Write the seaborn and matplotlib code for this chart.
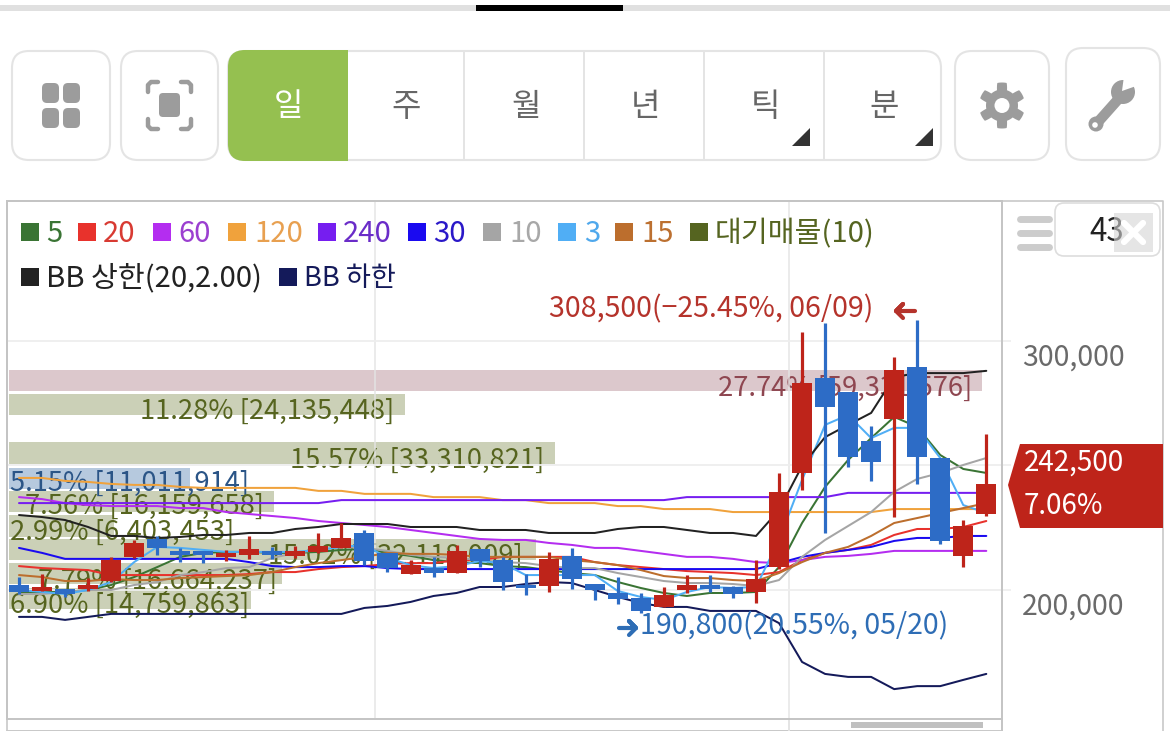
import numpy as np
import pandas as pd
import matplotlib
matplotlib.use("Agg")
import matplotlib.pyplot as plt
from matplotlib.patches import FancyBboxPatch, Rectangle, Polygon, Circle
from matplotlib.transforms import ScaledTranslation
import seaborn as sns

# Daily candles
highs = [205200,206400,200400,204800,213300,220100,221700,216900,215700,216100,221700,217300,217700,222900,226900,224100,214900,212000,213300,218100,216500,213300,206400,215300,216900,202400,205200,198800,201200,206000,206000,201600,212000,247000,303600,307200,279500,265900,293600,308500,253000,228100,262600]
lows = [198400,199600,197200,199600,203200,212900,214100,211200,210800,211600,212400,212400,212900,214900,216900,210000,207200,206400,205200,206800,209200,200000,198000,199200,200400,196000,194400,190800,193200,198800,199200,196800,194800,208400,240200,222900,249400,243800,229300,242600,218500,209200,229700]
opens = [202000,199600,200400,200400,203600,213300,220500,215700,215700,213300,214100,215700,213700,215300,216900,222900,214900,206400,208800,206800,216500,212000,202000,201600,213700,202400,198800,196800,193200,200000,202000,201200,199200,209200,247000,285100,279500,259800,268700,289600,253000,213700,230500]
closes = [199200,201200,198400,202000,212000,218900,216900,214100,214100,214900,216500,214100,215700,217700,220900,211600,208800,210000,206800,215700,211600,203200,200800,212400,204400,200000,196400,191600,198000,202000,200400,198400,204400,239400,283100,273500,253400,251400,288400,253400,219700,225700,242500]

# Moving averages and Bollinger bands
ma3 = [200000,199200,198400,200000,203200,211200,217300,216900,216100,215300,215300,215300,215300,216100,217300,218100,212900,210000,208800,209600,211600,210800,206000,206000,206000,206000,199600,197200,196000,199200,201200,200800,201200,220100,244200,266300,270300,261000,265100,265100,253000,234100,230900]
ma5 = [199200,199200,199200,200000,202000,205200,209200,213300,214900,215300,215300,214900,214900,215300,216100,216500,214900,213700,212000,211200,210800,209600,209200,208000,206800,206000,203200,200800,198800,197600,198800,198800,199200,209200,226900,241400,252200,261000,269500,265500,254200,248600,247000]
ma10 = [198400,198400,199200,200000,200000,202000,203200,206000,207200,208800,209200,212900,214900,216100,217300,216900,215700,214100,213300,212900,212000,211200,210800,209600,208800,208800,206800,205200,203600,202800,202800,202400,201600,204000,213300,220100,225700,231300,239400,244600,247000,250200,253000]
ma15 = [206000,205200,203600,203600,204400,204000,204000,204800,205200,205600,206000,207200,209200,210800,212000,213300,214900,214500,214500,214100,213300,213300,213300,213300,212000,211200,210000,208000,205600,204800,204800,204000,203600,206800,211200,214900,217300,221700,226900,228900,230900,232900,234900]
ma20 = [209600,208800,208400,208000,206000,206000,206000,206000,206000,206000,206400,207200,207200,208400,209200,209600,210400,210800,210800,212000,212000,213300,213300,213300,213300,211200,210000,209200,208400,207600,207200,206800,206000,207200,212000,214900,216100,218100,222100,224500,224500,225300,227700]
ma30 = [216900,214900,212500,212500,212500,212500,212500,212500,212500,212500,211200,209600,209200,209200,209600,209600,208800,208400,208400,208400,208400,208400,208400,208400,208400,208400,208400,208400,208400,208400,208400,208400,208400,210800,213300,214900,216100,217300,219700,220900,220900,221700,221700]
ma60 = [237300,236500,234900,234100,233700,233700,233700,232900,232900,231300,230500,229700,228900,227700,226900,226100,225300,224100,222900,221700,220500,220100,220100,218900,218100,216900,216900,215700,214500,213300,213300,212500,211200,210800,212000,213300,213700,214500,215700,215700,215700,215700,215700]
ma120 = [245000,245000,243800,243400,242600,242200,242200,241400,241000,241000,241000,241000,241000,239800,239800,238600,238600,238600,237300,237300,237300,236100,236100,234900,234900,234900,233700,233700,232500,232500,232500,231300,231300,231300,231300,231300,231300,231300,232500,232500,232500,232500,232500]
ma240 = [234900]*14 + [236100]*15 + [237300]*7 + [239000]*7
bb_upper = [230100,229300,228100,225300,221700,221700,220900,221300,222100,222100,222900,222900,224500,225300,226500,226500,226500,225300,225300,225300,224100,224100,224100,222900,222900,222900,224500,225300,225300,224100,222900,222900,221700,232100,249800,261400,266300,271100,285500,287100,287100,287100,288000]
bb_lower = [189200,189200,188000,189200,190400,190400,190400,190400,190400,190400,190400,190400,190400,190400,190400,192800,193600,195200,197600,198800,201200,201200,202400,203200,202800,200000,197200,194800,193200,193200,191600,191600,191600,186700,171100,166300,165100,165100,160200,161400,161400,163900,166300]

# Resistance bands: price level, share of volume, label
band_levels = [284100,274500,255000,244800,235500,225700,216300,206600,196600]
band_shares = [27.74,11.28,15.57,5.15,7.56,2.99,15.02,7.79,6.90]
band_labels = ["27.74% [59,331,576]","11.28% [24,135,448]","15.57% [33,310,821]","5.15% [11,011,914]","7.56% [16,159,658]","2.99% [6,403,453]","15.02% [32,118,009]","7.79% [16,664,237]","6.90% [14,759,863]"]

price_ticks = [200000,250000,300000]
price_tick_labels = ["200,000","","300,000"]
month_breaks = [15.45,33.45]

FONT = ["Noto Sans CJK KR","DejaVu Sans"]
sns.set_theme(style="white")
plt.rcParams["font.family"] = FONT
plt.rcParams["axes.unicode_minus"] = False

W, H = 1170, 731
fig = plt.figure(figsize=(W/100, H/100), dpi=100, facecolor="white")

def px_rect(x0, y0, x1, y1):
    return [x0/W, 1-y1/H, (x1-x0)/W, (y1-y0)/H]

def overlay(z):
    a = fig.add_axes([0,0,1,1], zorder=z)
    a.set_xlim(0,W); a.set_ylim(H,0); a.axis("off"); a.patch.set_visible(False)
    return a

back = overlay(0)
labels_layer = overlay(1.5)
top = overlay(5)

EDGE = "#E4E4E4"
ICON = "#9C9C9C"
def button(a, x0, y0, x1, y1, r=17, fc="white", ec=EDGE, lw=1.5, z=1):
    p = FancyBboxPatch((x0,y0), x1-x0, y1-y0, boxstyle=f"round,pad=0,rounding_size={r}",
                       fc=fc, ec=ec, lw=lw, zorder=z, mutation_aspect=1)
    a.add_patch(p)

# Progress strip along the top edge
back.add_patch(Rectangle((0,5),W,6,fc="#E0E0E0",ec="none"))
back.add_patch(Rectangle((476,5),147,6,fc="black",ec="none"))

# Toolbar buttons
button(back,12,51,110,160)
for x0 in (42,63):
    for y0 in (83,108):
        button(back,x0,y0,x0+17,y0+20,r=5,fc=ICON,ec="none",z=2)
button(back,121,51,218,160)
button(back,159,93,180,117,r=4,fc=ICON,ec="none",z=2)
for cx,cy,sx,sy in ((148,82,1,1),(191,82,-1,1),(148,129,1,-1),(191,129,-1,-1)):
    back.plot([cx+sx*10,cx+sx*3,cx,cx],[cy,cy,cy+sy*3,cy+sy*10],color=ICON,lw=3.2,solid_capstyle="round",solid_joinstyle="round",zorder=2)

button(back,228,51,941,160)
button(back,228,50,348,161,fc="#95C050",ec="none",z=2)
back.add_patch(Rectangle((310,50),38,111,fc="#95C050",ec="none",zorder=2))
for x in (464,584,704,824):
    back.plot([x,x],[51,160],color=EDGE,lw=1.4,zorder=2)
for ch,x,c in (("일",288,"white"),("주",406,"#666666"),("월",526,"#666666"),("년",645,"#666666"),("틱",765,"#666666"),("분",884,"#666666")):
    back.text(x,107,ch,ha="center",va="center",fontsize=23,color=c,zorder=3,fontweight="light")
for x in (792,915):
    back.add_patch(Polygon([[x,146],[x+18,146],[x+18,128]],fc="#333333",ec="none",zorder=3))

button(back,955,51,1049,160)
t = np.linspace(0,2*np.pi,361)
gear_r = 19.5+3.5*np.clip(3*np.cos(6*(t+np.pi/2)),-1,1)
back.add_patch(Polygon(np.c_[1002+gear_r*np.cos(t),105.5+gear_r*np.sin(t)],fc=ICON,ec="none",zorder=2))
back.add_patch(Circle((1002,105.5),7.5,fc="white",ec="none",zorder=3))

button(back,1066,48,1160,160)
back.plot([1098,1122],[122,95],color=ICON,lw=7.5,solid_capstyle="round",zorder=2)
back.add_patch(Circle((1096,124),7.5,fc=ICON,ec="none",zorder=2))
back.add_patch(Circle((1095,125),2.8,fc="white",ec="none",zorder=3))
back.add_patch(Circle((1123,92),12,fc=ICON,ec="none",zorder=2))
back.add_patch(Polygon([[1122,91],[1124,76],[1139,85]],fc="white",ec="none",zorder=3))

# Outer frame of the chart panel
back.plot([7,7,1163,1163],[731,201,201,731],color="#C8C8C8",lw=1.2)
back.plot([7,1002],[730.5,730.5],color="#C8C8C8",lw=1.4)
back.plot([1002,1002],[719,731],color="#C4C4C4",lw=1.4)
back.plot([789,789],[719,731],color=EDGE,lw=1.4)
back.add_patch(Rectangle((851,722),132,6,fc="#C0C0C0",ec="none"))

# Price panel
ax = fig.add_axes(px_rect(7,201,1001.5,719), zorder=2)
ax.patch.set_visible(False)
ax.set_xlim(-0.521,42.66)
ax.set_ylim(148200,356200)

# Volume bands sit behind the candles, on their own percentage scale
band_ax = ax.twiny()
band_ax.set_zorder(1)
ax.set_zorder(2)
band_ax.set_xlim(-0.057,28.29)
band_ax.axis("off")
band_colors = ["#DCC8CC","#CBD0B7","#CBD0B7","#B6C9DE"]+["#CBD0B7"]*5
band_ax.barh(band_levels,band_shares,height=8600,color=band_colors,linewidth=0)

label_pos = [(972,"right"),(140,"left"),(290,"left"),(10,"left"),(25,"left"),(10,"left"),(268,"left"),(38,"left"),(10,"left")]
label_y = [388,411,460,483,506,532,556,581,605]
label_colors = ["#8E4650","#56641F","#56641F","#2B5587"]+["#56641F"]*5
for (x,ha),y,s,c in zip(label_pos,label_y,band_labels,label_colors):
    labels_layer.text(x,y,s,ha=ha,va="center",fontsize=19.7,color=c)

# Moving averages and bands
idx = np.arange(len(closes))
series = {"5":ma5,"20":ma20,"60":ma60,"120":ma120,"240":ma240,"30":ma30,"10":ma10,"3":ma3,"15":ma15,"upper":bb_upper,"lower":bb_lower}
palette = {"5":"#3A7434","20":"#E8322C","60":"#B42DF0","120":"#F0A23C","240":"#761EF0","30":"#1A0AF0","10":"#A5A5A5","3":"#50AEF5","15":"#BC6E2D","upper":"#222222","lower":"#141A5A"}
long_df = pd.concat([pd.DataFrame({"idx":idx,"price":v,"series":k}) for k,v in series.items()])
sns.lineplot(data=long_df,x="idx",y="price",hue="series",palette=palette,estimator=None,sort=False,
             legend=False,linewidth=1.45,zorder=3,ax=ax)

# Candles
RED, BLUE = "#BE241A", "#2D6CC6"
opens_a, closes_a = np.array(opens), np.array(closes)
colors = np.where(closes_a>=opens_a,RED,BLUE)
ax.vlines(idx,lows,highs,colors=colors,linewidth=2.3,zorder=4)
ax.bar(idx,np.abs(closes_a-opens_a),bottom=np.minimum(opens_a,closes_a),width=0.87,color=colors,linewidth=0,zorder=5)

# Axis furniture
ax.set_xlabel(""); ax.set_ylabel("")
ax.set_xticks(month_breaks); ax.set_xticklabels([])
ax.yaxis.tick_right()
ax.set_yticks(price_ticks); ax.set_yticklabels(price_tick_labels)
ax.tick_params(axis="x",length=0)
ax.tick_params(axis="y",length=6.5,width=1.2,color="#EEEEEE",pad=8.5,labelsize=20.5,labelcolor="#6A6A6A")
label_shift = ScaledTranslation(0,-2/100,fig.dpi_scale_trans)
for lab in ax.get_yticklabels():
    lab.set_va("top")
    lab.set_transform(lab.get_transform()+label_shift)
ax.set_axisbelow(True)
ax.grid(axis="y",color="#EEEEEE",lw=1.3)
ax.grid(axis="x",color="#E4E4E4",lw=1.3,alpha=0.8)
for s in ax.spines.values():
    s.set_color("#C4C4C4"); s.set_linewidth(1.4); s.set_visible(True)

# Legend rows
legend_row1 = [("5",21,46,"#3A7434","#3A7434",21),("20",78,103,"#E8322C","#D83A32",21),("60",153,178,"#B42DF0","#9B3FD0",21),("120",228,254,"#F0A23C","#E8A050",21),("240",318,343,"#761EF0","#6A2CC8",21),("30",408,433,"#1A0AF0","#2A18C8",21),("10",483,509,"#A5A5A5","#A8A8A8",21),("3",558,584,"#50AEF5","#4FA8EC",21),("15",615,641,"#BC6E2D","#BC7030",21),("대기매물(10)",690,715,"#556420","#556420",21)]
legend_row2 = [("BB 상한(20,2.00)",21,46,"#222222","#222222",21),("BB 하한",279,304,"#141A5A","#141A5A",19.6)]
for row,yc,dy in ((legend_row1,232,2),(legend_row2,277,1)):
    for s,xs,xt,cs,ct,fs in row:
        top.add_patch(Rectangle((xs,yc-9),18,18,fc=cs,ec="none"))
        top.text(xt,yc+dy,s,ha="left",va="center",fontsize=fs,color=ct)

# High and low callouts
top.text(549,309,"308,500(−25.45%, 06/09)",ha="left",va="center",fontsize=20.6,color="#B5332B")
top.plot([915,896,903,896,903],[311,311,304,311,318],color="#B5332B",lw=3,solid_capstyle="round",solid_joinstyle="round")
top.text(640,626,"190,800(20.55%, 05/20)",ha="left",va="center",fontsize=20.6,color="#2E6DB5")
top.plot([619,636,629,636,629],[628,628,621,628,635],color="#2E6DB5",lw=3,solid_capstyle="round",solid_joinstyle="round")

# Current price tag
top.add_patch(Polygon([[1008,485],[1020,444],[1163,444],[1163,528],[1020,528]],fc="#BE241A",ec="none"))
top.text(1024,463,"242,500",ha="left",va="center",fontsize=20,color="white")
top.text(1024,506,"7.06%",ha="left",va="center",fontsize=20,color="white")

# Candle count box
for y in (218.5,232.5,246.5):
    top.plot([1020,1049],[y,y],color="#CCCCCC",lw=5,solid_capstyle="round")
button(top,1055,203,1160,256,r=9,ec="#DDDDDD",lw=1.2)
top.text(1107,232,"43",ha="center",va="center",fontsize=22.5,color="#222222",zorder=3)
top.add_patch(Rectangle((1114,213),39,39,fc="#D4D4D4",ec="none",alpha=0.6,zorder=4))
top.plot([1124,1143],[223,242],color="white",lw=4.5,zorder=5,solid_capstyle="round")
top.plot([1143,1124],[223,242],color="white",lw=4.5,zorder=5,solid_capstyle="round")

fig.savefig("out.png",dpi=100)
